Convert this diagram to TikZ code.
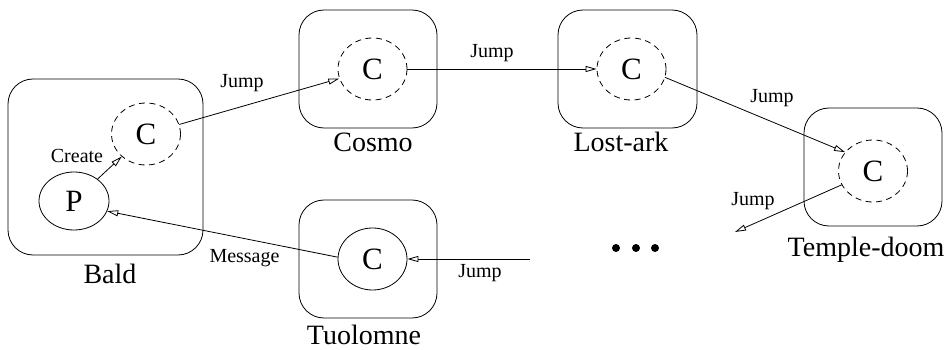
\documentclass[tikz,border=0pt]{standalone}
\usepackage{fontspec}
\setmainfont{Liberation Serif}
\usepackage{tikz}
\usetikzlibrary{arrows.meta,shapes.geometric}

\begin{document}
\begin{tikzpicture}[
  x=1pt, y=-1pt,
  host/.style={
    rectangle,
    rounded corners=25pt,
    draw,
    line width=0.8pt,
    inner sep=0pt
  },
  task/.style={
    ellipse,
    draw,
    line width=0.8pt,
    minimum width=69pt,
    minimum height=62pt,
    inner sep=0pt,
    font=\fontsize{31}{32}\selectfont
  },
  clone/.style={task, dash pattern=on 6pt off 4.5pt},
  hostname/.style={anchor=base, inner sep=0pt, font=\fontsize{28}{30}\selectfont},
  msg/.style={anchor=base, inner sep=0pt, font=\fontsize{20}{22}\selectfont},
  arrow/.style={-{Triangle[open,length=11pt,width=6pt]}, line width=0.8pt}
]
\useasboundingbox (0,0) rectangle (946,350);

% hosts
\node[host, minimum width=195pt, minimum height=176pt] (bald) at (105.5,167) {};
\node[host, minimum width=138pt, minimum height=118pt] (cosmo) at (368,69) {};
\node[host, minimum width=139pt, minimum height=118pt] (lostark) at (627.5,69) {};
\node[host, minimum width=138pt, minimum height=118pt] (tuolomne) at (368,259) {};
\node[host, minimum width=138pt, minimum height=118pt] (temple) at (873,167) {};

\node[hostname] (baldname) at (110,283) {Bald};
\node[hostname] (cosmoname) at (373,152) {Cosmo};
\node[hostname] (lostarkname) at (621,152) {Lost-ark};
\node[hostname] (tuolomnename) at (364,344) {Tuolomne};
\node[hostname] (templename) at (866,257) {Temple-doom};

% processes and clones
\node[task, minimum width=70pt, minimum height=58pt] (p) at (74,201) {P};
\node[clone] (baldc) at (146,134) {C};
\node[clone] (cosmoc) at (372.5,69) {C};
\node[clone] (lostarkc) at (631.5,69) {C};
\node[clone] (templec) at (873,171) {C};
\node[task] (tuolomnec) at (372.5,259) {C};

% free ends of the chain
\coordinate (jumpout) at (735,232);
\coordinate (jumpin) at (530,259);

% more hosts
\foreach \x in {616,636,655}
  \fill (\x,248) circle (4pt);

% connectors
\draw[arrow] (p) -- (baldc);
\draw[arrow] (baldc) -- (cosmoc);
\draw[arrow] (cosmoc) -- (lostarkc);
\draw[arrow] (lostarkc.-14) -- (templec.146);
\draw[arrow] (templec) -- (jumpout);
\draw[arrow] (jumpin) -- (tuolomnec);
\draw[arrow] (tuolomnec.177) -- (p.343);

\node[msg] (create) at (77,163) {Create};
\node[msg] (jump1) at (242,88) {Jump};
\node[msg] (jump2) at (492,58) {Jump};
\node[msg] (jump3) at (772,103) {Jump};
\node[msg] (jump4) at (753,206) {Jump};
\node[msg] (jump5) at (480,277) {Jump};
\node[msg] (message) at (244.5,262) {Message};

\end{tikzpicture}
\end{document}
